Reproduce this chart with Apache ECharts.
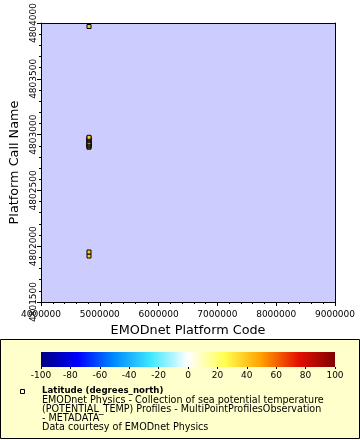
<!DOCTYPE html>
<html><head><meta charset="utf-8">
<script src="https://cdn.jsdelivr.net/npm/echarts@6/dist/echarts.min.js"></script>
<style>html,body{margin:0;padding:0;background:#fff}#c{width:360px;height:440px}</style>
</head><body><div id="c"></div>
<script>
// ---- data, in drawing order ----
const platformCode = [4816500, 4816500, 4816500, 4816500, 4816500, 4816500, 4816500, 4816500, 4816500, 4816500, 4816500, 4816500, 4816500];
const callName     = [4801912, 4801948, 4802887, 4802896, 4802905, 4802914, 4802923, 4802932, 4802949, 4802958, 4802967, 4802976, 4803969];
const latitude     = [40, 40, 38, 38, 38, 38, 38, 38, 38, 38, 38, 38, 39.5];

// ---- axes ----
const xRange = [4000000, 9000000, 1000000];
const yRange = [4801500, 4804000, 500];
const cbRange = [-100, 100, 20];
const palette = ['#000080', '#0000ff', '#008cff', '#40e8ff', '#ffffff', '#ffff50', '#ff9f00', '#e61000', '#800000'];

const legendLines = [
  'EMODnet Physics - Collection of sea potential temperature',
  '(POTENTIAL_TEMP) Profiles - MultiPointProfilesObservation',
  '- METADATA',
  'Data courtesy of EMODnet Physics'
];

const FONT = '"DejaVu Sans", sans-serif';
const points = platformCode.map((x, i) => [x, callName[i], latitude[i]]);

const chart = echarts.init(document.getElementById('c'), null, {renderer: 'canvas'});
const stops = palette.map((c, i) => ({offset: i / (palette.length - 1), color: c}));

const tickLbl = {fontFamily: FONT, fontSize: 9, color: '#000'};

chart.setOption({
  animation: false,
  backgroundColor: '#fff',
  grid: [
    {left: 38, right: 25, top: 20, bottom: 138, show: true, backgroundColor: '#ccccff', borderWidth: 0},
    {left: 41, right: 25, top: 352, bottom: 73, show: false}
  ],
  xAxis: [
    {gridIndex: 0, type: 'value', min: xRange[0], max: xRange[1], interval: xRange[2],
     name: 'EMODnet Platform Code', nameLocation: 'middle', nameGap: 21,
     nameTextStyle: {fontFamily: FONT, fontSize: 12.8, color: '#000'},
     axisLine: {show: true, onZero: false, lineStyle: {color: '#000', width: 1}},
     axisTick: {show: true, length: 4, lineStyle: {color: '#000'}},
     minorTick: {show: true, splitNumber: 5, length: 2, lineStyle: {color: '#000'}},
     splitLine: {show: false},
     axisLabel: Object.assign({margin: 8, showMinLabel: true, showMaxLabel: true, formatter: v => String(v)}, tickLbl)},
    {gridIndex: 0, type: 'value', position: 'top', min: xRange[0], max: xRange[1],
     axisLine: {show: true, onZero: false, lineStyle: {color: '#000'}},
     axisTick: {show: false}, axisLabel: {show: false}, splitLine: {show: false}},
    {gridIndex: 1, type: 'value', min: cbRange[0], max: cbRange[1], interval: cbRange[2],
     axisLine: {show: false, onZero: false},
     axisTick: {show: true, length: 2, lineStyle: {color: '#000'}},
     splitLine: {show: false},
     axisLabel: Object.assign({margin: 4, showMinLabel: true, showMaxLabel: true}, tickLbl)}
  ],
  yAxis: [
    {gridIndex: 0, type: 'value', min: yRange[0], max: yRange[1], interval: yRange[2],
     name: 'Platform Call Name', nameLocation: 'middle', nameGap: 20,
     nameTextStyle: {fontFamily: FONT, fontSize: 12.8, color: '#000'},
     axisLine: {show: true, onZero: false, lineStyle: {color: '#000', width: 1}},
     axisTick: {show: true, length: 4, lineStyle: {color: '#000'}},
     minorTick: {show: true, splitNumber: 5, length: 2, lineStyle: {color: '#000'}},
     splitLine: {show: false},
     axisLabel: Object.assign({margin: 3, rotate: 90, showMinLabel: true, showMaxLabel: true, formatter: v => String(v)}, tickLbl)},
    {gridIndex: 0, type: 'value', position: 'right', min: yRange[0], max: yRange[1],
     axisLine: {show: true, onZero: false, lineStyle: {color: '#000'}},
     axisTick: {show: false}, axisLabel: {show: false}, splitLine: {show: false}},
    {gridIndex: 1, type: 'value', min: 0, max: 1, show: false}
  ],
  visualMap: {
    show: false, type: 'continuous', min: cbRange[0], max: cbRange[1],
    dimension: 2, seriesIndex: 0, inRange: {color: palette}
  },
  series: [
    {type: 'scatter', xAxisIndex: 0, yAxisIndex: 0, data: points,
     symbol: 'rect', symbolSize: 4,
     itemStyle: {borderColor: '#000', borderWidth: 1, opacity: 1},
     emphasis: {disabled: true}, silent: true},
    {type: 'custom', xAxisIndex: 2, yAxisIndex: 2, data: [[cbRange[0], cbRange[1]]],
     encode: {x: [0, 1]}, silent: true,
     renderItem: function (params, api) {
       const p0 = api.coord([api.value(0), 1]);
       const p1 = api.coord([api.value(1), 0]);
       return {type: 'rect', shape: {x: p0[0], y: p0[1], width: p1[0] - p0[0], height: p1[1] - p0[1]},
               style: {fill: new echarts.graphic.LinearGradient(0, 0, 1, 0, stops)}};
     }}
  ],
  graphic: [
    {type: 'rect', z: -5, shape: {x: 0.5, y: 339.5, width: 359, height: 99},
     style: {fill: '#ffffcc', stroke: '#000', lineWidth: 1}, silent: true},
    {type: 'rect', z: 10, shape: {x: 20.5, y: 389.5, width: 4, height: 4},
     style: {fill: '#ffffcc', stroke: '#000', lineWidth: 1}, silent: true},
    {type: 'text', z: 10, style: {x: 42, y: 391, text: 'Latitude (degrees_north)', font: 'bold 8.6px ' + FONT, fill: '#000', verticalAlign: 'middle', align: 'left'}},
  ].concat(legendLines.map((t, i) => ({
    type: 'text', z: 10,
    style: {x: 42, y: 400 + i * 9, text: t, font: '9.6px ' + FONT, fill: '#000', verticalAlign: 'middle', align: 'left'}
  })))
});
</script>
</body></html>
